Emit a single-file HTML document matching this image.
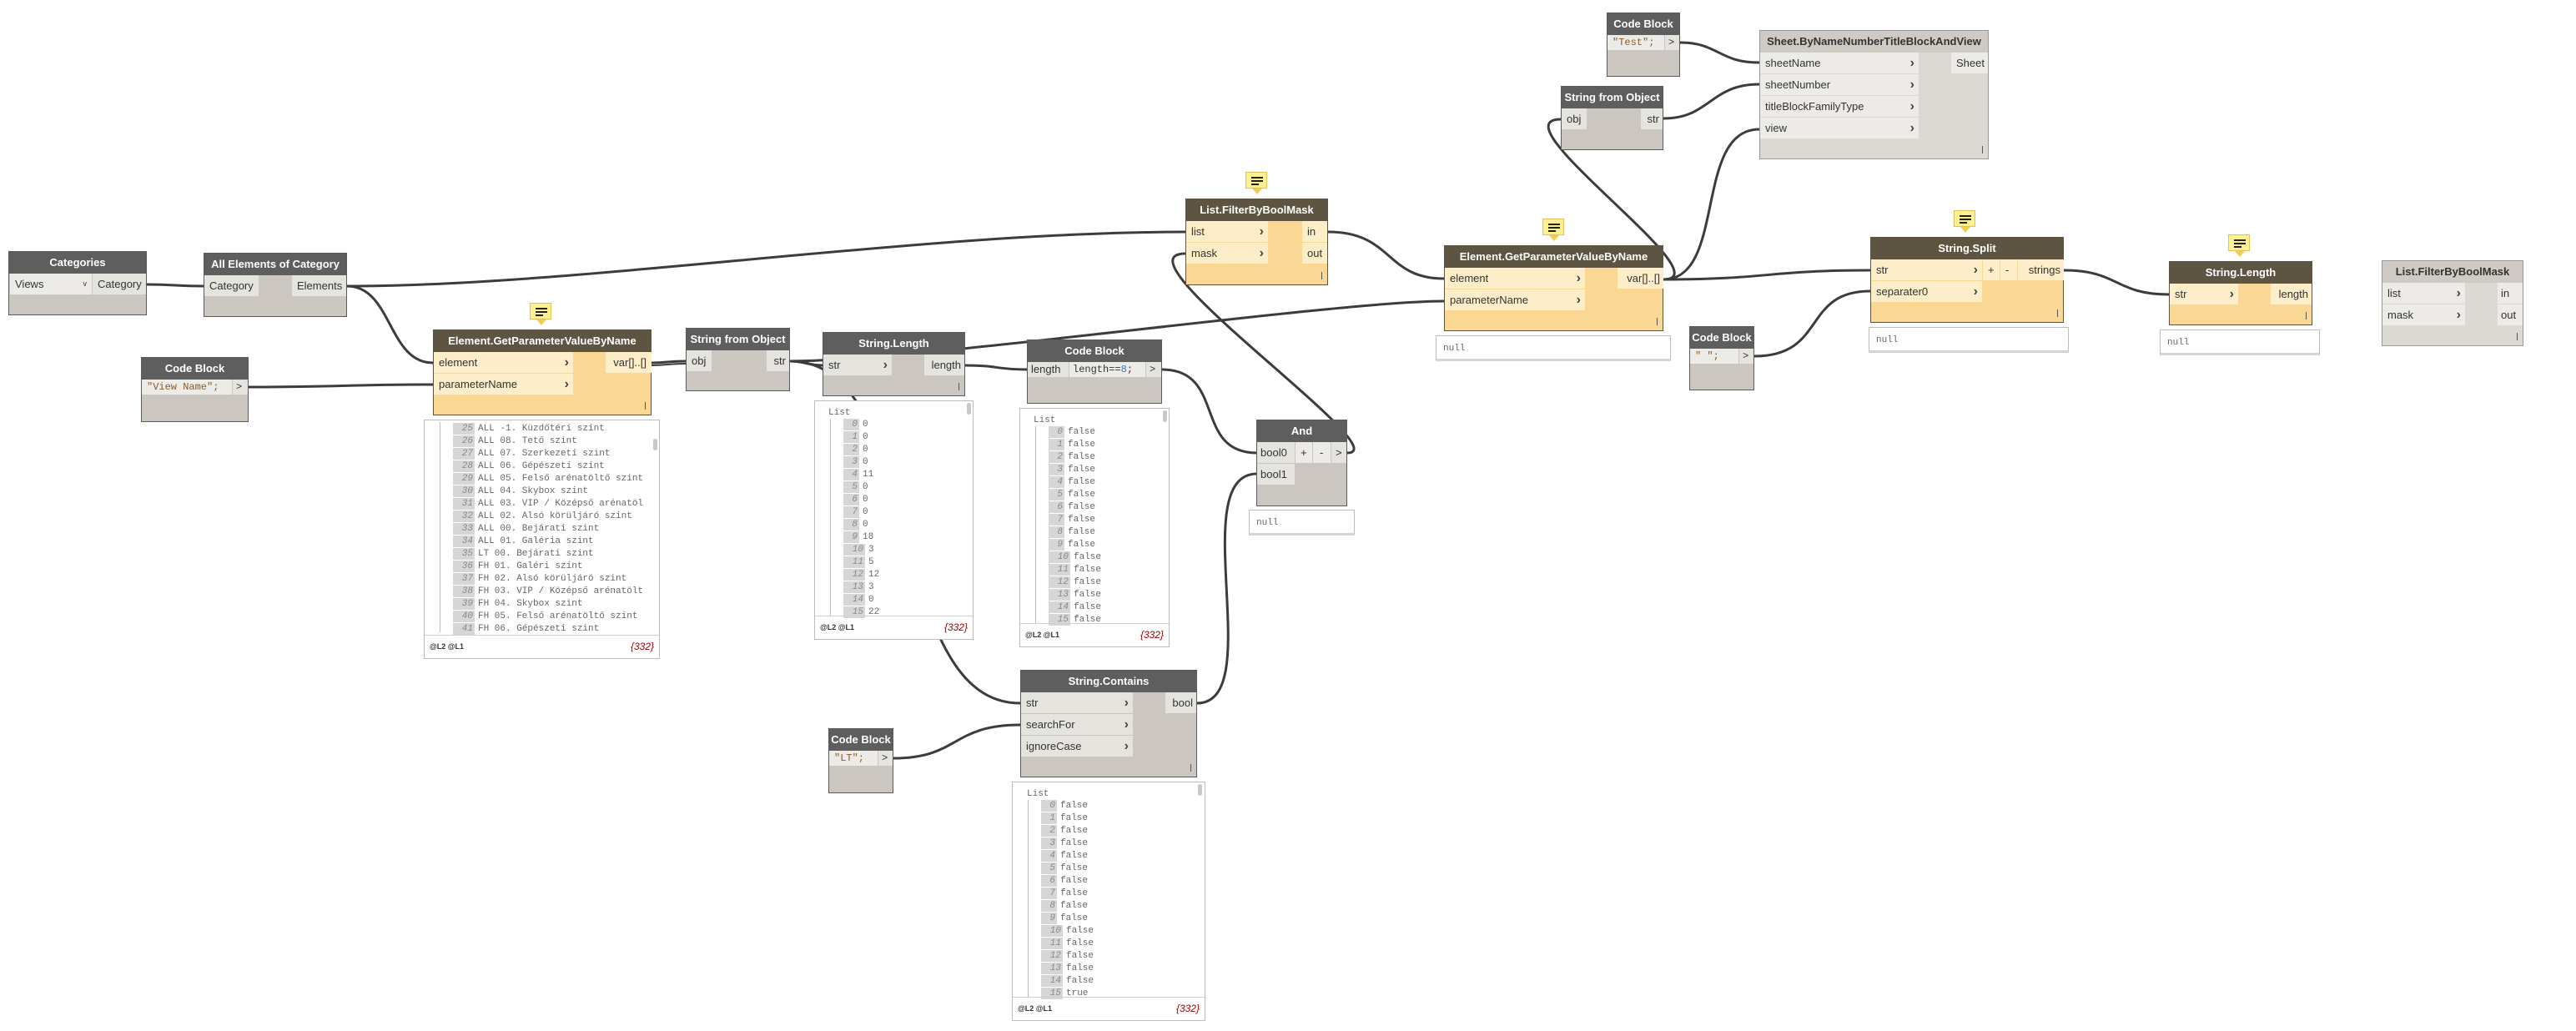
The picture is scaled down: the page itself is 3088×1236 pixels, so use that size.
<!DOCTYPE html>
<html><head><meta charset="utf-8">
<style>
body{margin:0;width:3088px;height:1236px;background:#fff;position:relative;overflow:hidden;font-family:"Liberation Sans",sans-serif}
.n{position:absolute;box-sizing:border-box;border:1px solid #555}
.h{height:26px;line-height:26px;text-align:center;color:#fff;font-size:13px;font-weight:bold;white-space:nowrap;overflow:hidden}
.g{background:#cbc7c0;border-color:#5a5a5a}.g .h{background:#5e5e5e}
.y{background:#fad894;border-color:#5d5442}.y .h{background:#5d5442}
.l{background:#dcd9d3;border-color:#999}.l .h{background:#cfcbc4;color:#333}
.p{position:absolute;height:25px;line-height:25px;font-size:13px;color:#333;padding:0 6px;box-sizing:border-box;white-space:nowrap;overflow:hidden}
.g .p{background:#e5e3de}.y .p{background:#fdedc8}.l .p{background:#ecebe7}
.ch{position:absolute;right:5px;top:0;font-weight:bold;font-size:16px;color:#444}
.r{text-align:right}
.c{font-family:"Liberation Mono",monospace;font-size:12px;height:18px;line-height:18px}
.s{color:#8a5a2c}
.t{position:absolute;right:6px;bottom:6px;width:1px;height:9px;background:#555}
.w{position:absolute;box-sizing:border-box;border:1px solid #bdbdbd;background:#fff;font-family:"Liberation Mono",monospace;font-size:11px;color:#666}
.w .rw{position:absolute;height:14px;line-height:14px;white-space:nowrap}
.w .i{display:inline-block;background:#d6d6d6;color:#888;font-style:italic;text-align:right;padding-right:2px;margin-right:4px;box-sizing:border-box}
.w .ft{position:absolute;left:0;right:0;bottom:0;height:27px;border-top:1px solid #cfcfcf;font-family:"Liberation Sans",sans-serif}
.w .ft .a{position:absolute;left:6px;top:8px;font-size:9px;color:#333;font-weight:bold}
.w .ft .b{position:absolute;right:6px;top:6px;font-size:12px;color:#a00000;font-style:italic}
.w .vl{position:absolute;width:1px;background:#bbb}
.w .sb{position:absolute;width:5px;height:14px;border-radius:3px;background:#c8c8c8}
.nl{position:absolute;box-sizing:border-box;border:1px solid #bdbdbd;border-bottom:3px solid #d5d5d5;background:#fff;font-family:"Liberation Mono",monospace;font-size:11px;color:#666;padding:9px 0 0 8px}
.note{position:absolute;width:26px;height:20px;background:#fff18f;border:1px solid #e0c05a;box-sizing:border-box}
.note:after{content:"";position:absolute;left:7px;top:19px;border-left:6px solid transparent;border-right:6px solid transparent;border-top:7px solid #f0cf55}
.note i{position:absolute;left:6px;height:2px;background:#222}
</style></head><body>

<svg width="3088" height="1236" style="position:absolute;left:0;top:0" fill="none" stroke="#3c3c3c" stroke-width="3">
<path d="M176 341 C210 341,210 343,244 343"/>
<path d="M416 343 C470 343,465 435,519 435"/>
<path d="M416 343 C700 343,1100 278,1422 278"/>
<path d="M298 464 C400 464,420 461,519 461"/>
<path d="M781 435 C800 435,800 433,822 433"/>
<path d="M781 438 C800 438,800 436,822 436" stroke-width="2"/>
<path d="M947 433 C965 433,968 438,986 438"/>
<path d="M947 433 C1100 433,1600 361,1731 361"/>
<path d="M947 433 C1110 433,1060 843,1223 843"/>
<path d="M1157 438 C1195 438,1195 443,1231 443"/>
<path d="M1393 443 C1470 443,1430 543,1507 543"/>
<path d="M1615 543 C1680 543,1330 304,1421 304"/>
<path d="M1435 843 C1520 843,1420 568,1507 568"/>
<path d="M1071 909 C1150 909,1140 869,1223 869"/>
<path d="M1592 278 C1670 278,1660 334,1731 334"/>
<path d="M1994 335 C2120 335,2120 324,2242 324"/>
<path d="M1994 335 C2070 335,1790 143,1871 143"/>
<path d="M1994 335 C2070 335,2030 155,2109 155"/>
<path d="M1994 142 C2050 142,2050 101,2109 101"/>
<path d="M2014 51 C2060 51,2060 75,2109 75"/>
<path d="M2103 427 C2190 427,2160 349,2242 349"/>
<path d="M2474 324 C2540 324,2535 353,2600 353"/>
</svg>

<!-- Categories -->
<div class="n g" style="left:10px;top:301px;width:166px;height:77px"><div class="h">Categories</div>
<div class="p" style="left:1px;top:26px;width:98px;background:#ecebe8">Views<span style="position:absolute;right:6px;font-size:9px">v</span></div>
<div class="p r" style="left:100px;top:26px;width:64px">Category</div></div>

<div class="n g" style="left:244px;top:303px;width:172px;height:77px"><div class="h">All Elements of Category</div>
<div class="p" style="left:0;top:26px;width:65px">Category</div>
<div class="p r" style="left:105px;top:26px;width:65px">Elements</div></div>

<div class="n g" style="left:169px;top:428px;width:129px;height:78px"><div class="h">Code Block</div>
<div class="p c" style="left:0;top:26px;width:108px;background:#ecebe8"><span class="s">"View Name";</span></div>
<div class="p c" style="left:109px;top:26px;width:18px;padding:0 4px">&gt;</div></div>

<div class="note" style="left:635px;top:363px"><i style="top:5px;width:14px"></i><i style="top:9px;width:14px"></i><i style="top:13px;width:9px"></i></div>
<div class="n y" style="left:519px;top:395px;width:262px;height:103px"><div class="h">Element.GetParameterValueByName</div>
<div class="p" style="left:0;top:26px;width:167px">element<span class="ch">›</span></div>
<div class="p" style="left:0;top:52px;width:167px">parameterName<span class="ch">›</span></div>
<div class="p r" style="left:206px;top:26px;width:55px">var[]..[]</div><div class="t"></div></div>

<div class="w" style="left:508px;top:503px;width:283px;height:287px">
<div class="vl" style="left:18px;top:2px;height:252px"></div><div class="sb" style="left:282px;top:22px;left:274px"></div>
<div class="rw" style="left:34px;top:3px"><span class="i" style="width:26px">25</span>ALL -1. Küzdőtéri szint</div>
<div class="rw" style="left:34px;top:18px"><span class="i" style="width:26px">26</span>ALL 08. Tető szint</div>
<div class="rw" style="left:34px;top:33px"><span class="i" style="width:26px">27</span>ALL 07. Szerkezeti szint</div>
<div class="rw" style="left:34px;top:48px"><span class="i" style="width:26px">28</span>ALL 06. Gépészeti szint</div>
<div class="rw" style="left:34px;top:63px"><span class="i" style="width:26px">29</span>ALL 05. Felső arénatöltő szint</div>
<div class="rw" style="left:34px;top:78px"><span class="i" style="width:26px">30</span>ALL 04. Skybox szint</div>
<div class="rw" style="left:34px;top:93px"><span class="i" style="width:26px">31</span>ALL 03. VIP / Középső arénatöl</div>
<div class="rw" style="left:34px;top:108px"><span class="i" style="width:26px">32</span>ALL 02. Alsó körüljáró szint</div>
<div class="rw" style="left:34px;top:123px"><span class="i" style="width:26px">33</span>ALL 00. Bejárati szint</div>
<div class="rw" style="left:34px;top:138px"><span class="i" style="width:26px">34</span>ALL 01. Galéria szint</div>
<div class="rw" style="left:34px;top:153px"><span class="i" style="width:26px">35</span>LT 00. Bejárati szint</div>
<div class="rw" style="left:34px;top:168px"><span class="i" style="width:26px">36</span>FH 01. Galéri szint</div>
<div class="rw" style="left:34px;top:183px"><span class="i" style="width:26px">37</span>FH 02. Alsó körüljáró szint</div>
<div class="rw" style="left:34px;top:198px"><span class="i" style="width:26px">38</span>FH 03. VIP / Középső arénatölt</div>
<div class="rw" style="left:34px;top:213px"><span class="i" style="width:26px">39</span>FH 04. Skybox szint</div>
<div class="rw" style="left:34px;top:228px"><span class="i" style="width:26px">40</span>FH 05. Felső arénatöltő szint</div>
<div class="rw" style="left:34px;top:243px"><span class="i" style="width:26px">41</span>FH 06. Gépészeti szint</div>
<div class="ft"><span class="a">@L2 @L1</span><span class="b">{332}</span></div></div>

<!-- String from Object -->
<div class="n g" style="left:822px;top:393px;width:125px;height:76px"><div class="h">String from Object</div>
<div class="p" style="left:0;top:26px;width:30px">obj</div>
<div class="p r" style="left:96px;top:26px;width:27px;padding:0 4px">str</div></div>

<div class="n g" style="left:986px;top:398px;width:171px;height:77px"><div class="h">String.Length</div>
<div class="p" style="left:0;top:26px;width:82px">str<span class="ch">›</span></div>
<div class="p r" style="left:121px;top:26px;width:48px;padding:0 4px">length</div><div class="t"></div></div>

<div class="w" style="left:976px;top:480px;width:191px;height:287px">
<div class="rw" style="left:16px;top:7px">List</div><div class="vl" style="left:18px;top:21px;height:236px"></div><div class="sb" style="left:182px;top:2px"></div>
<div class="rw" style="left:34px;top:21px"><span class="i" style="width:19px">0</span>0</div>
<div class="rw" style="left:34px;top:36px"><span class="i" style="width:19px">1</span>0</div>
<div class="rw" style="left:34px;top:51px"><span class="i" style="width:19px">2</span>0</div>
<div class="rw" style="left:34px;top:66px"><span class="i" style="width:19px">3</span>0</div>
<div class="rw" style="left:34px;top:81px"><span class="i" style="width:19px">4</span>11</div>
<div class="rw" style="left:34px;top:96px"><span class="i" style="width:19px">5</span>0</div>
<div class="rw" style="left:34px;top:111px"><span class="i" style="width:19px">6</span>0</div>
<div class="rw" style="left:34px;top:126px"><span class="i" style="width:19px">7</span>0</div>
<div class="rw" style="left:34px;top:141px"><span class="i" style="width:19px">8</span>0</div>
<div class="rw" style="left:34px;top:156px"><span class="i" style="width:19px">9</span>18</div>
<div class="rw" style="left:34px;top:171px"><span class="i" style="width:26px">10</span>3</div>
<div class="rw" style="left:34px;top:186px"><span class="i" style="width:26px">11</span>5</div>
<div class="rw" style="left:34px;top:201px"><span class="i" style="width:26px">12</span>12</div>
<div class="rw" style="left:34px;top:216px"><span class="i" style="width:26px">13</span>3</div>
<div class="rw" style="left:34px;top:231px"><span class="i" style="width:26px">14</span>0</div>
<div class="rw" style="left:34px;top:246px"><span class="i" style="width:26px">15</span>22</div>
<div class="ft"><span class="a">@L2 @L1</span><span class="b">{332}</span></div></div>

<div class="n g" style="left:1231px;top:407px;width:162px;height:77px"><div class="h">Code Block</div>
<div class="p" style="left:0;top:26px;width:49px;height:18px;line-height:18px;padding:0 4px">length</div>
<div class="p c" style="left:50px;top:26px;width:91px;background:#ecebe8;padding:0 4px">length==<span style="color:#2a7ad6">8</span>;</div>
<div class="p c" style="left:142px;top:26px;width:18px;padding:0 4px">&gt;</div></div>

<div class="w" style="left:1222px;top:489px;width:180px;height:287px">
<div class="rw" style="left:16px;top:7px">List</div><div class="vl" style="left:18px;top:21px;height:236px"></div><div class="sb" style="left:171px;top:2px"></div>
<div class="rw" style="left:34px;top:21px"><span class="i" style="width:19px">0</span>false</div>
<div class="rw" style="left:34px;top:36px"><span class="i" style="width:19px">1</span>false</div>
<div class="rw" style="left:34px;top:51px"><span class="i" style="width:19px">2</span>false</div>
<div class="rw" style="left:34px;top:66px"><span class="i" style="width:19px">3</span>false</div>
<div class="rw" style="left:34px;top:81px"><span class="i" style="width:19px">4</span>false</div>
<div class="rw" style="left:34px;top:96px"><span class="i" style="width:19px">5</span>false</div>
<div class="rw" style="left:34px;top:111px"><span class="i" style="width:19px">6</span>false</div>
<div class="rw" style="left:34px;top:126px"><span class="i" style="width:19px">7</span>false</div>
<div class="rw" style="left:34px;top:141px"><span class="i" style="width:19px">8</span>false</div>
<div class="rw" style="left:34px;top:156px"><span class="i" style="width:19px">9</span>false</div>
<div class="rw" style="left:34px;top:171px"><span class="i" style="width:26px">10</span>false</div>
<div class="rw" style="left:34px;top:186px"><span class="i" style="width:26px">11</span>false</div>
<div class="rw" style="left:34px;top:201px"><span class="i" style="width:26px">12</span>false</div>
<div class="rw" style="left:34px;top:216px"><span class="i" style="width:26px">13</span>false</div>
<div class="rw" style="left:34px;top:231px"><span class="i" style="width:26px">14</span>false</div>
<div class="rw" style="left:34px;top:246px"><span class="i" style="width:26px">15</span>false</div>
<div class="ft"><span class="a">@L2 @L1</span><span class="b">{332}</span></div></div>

<!-- And -->
<div class="n g" style="left:1506px;top:503px;width:109px;height:104px"><div class="h">And</div>
<div class="p" style="left:0;top:26px;width:45px;padding:0 4px">bool0</div>
<div class="p" style="left:46px;top:26px;width:20px;padding:0 6px;background:#ecebe8">+</div>
<div class="p" style="left:67px;top:26px;width:21px;padding:0 8px;background:#ecebe8">-</div>
<div class="p" style="left:89px;top:26px;width:18px;padding:0 5px">&gt;</div>
<div class="p" style="left:0;top:52px;width:45px;padding:0 4px">bool1</div></div>
<div class="nl" style="left:1497px;top:611px;width:127px;height:31px">null</div>

<!-- List.FilterByBoolMask -->
<div class="note" style="left:1493px;top:206px"><i style="top:5px;width:14px"></i><i style="top:9px;width:14px"></i><i style="top:13px;width:9px"></i></div>
<div class="n y" style="left:1421px;top:238px;width:171px;height:104px"><div class="h">List.FilterByBoolMask</div>
<div class="p" style="left:0;top:26px;width:98px">list<span class="ch">›</span></div>
<div class="p" style="left:0;top:52px;width:98px">mask<span class="ch">›</span></div>
<div class="p" style="left:139px;top:26px;width:30px">in</div>
<div class="p" style="left:139px;top:52px;width:30px">out</div><div class="t"></div></div>

<!-- GPV right -->
<div class="note" style="left:1849px;top:262px"><i style="top:5px;width:14px"></i><i style="top:9px;width:14px"></i><i style="top:13px;width:9px"></i></div>
<div class="n y" style="left:1731px;top:294px;width:263px;height:103px"><div class="h">Element.GetParameterValueByName</div>
<div class="p" style="left:0;top:26px;width:168px">element<span class="ch">›</span></div>
<div class="p" style="left:0;top:52px;width:168px">parameterName<span class="ch">›</span></div>
<div class="p r" style="left:207px;top:26px;width:55px;padding:0 4px">var[]..[]</div><div class="t"></div></div>
<div class="nl" style="left:1721px;top:402px;width:282px;height:31px">null</div>

<div class="n g" style="left:2025px;top:391px;width:78px;height:77px"><div class="h">Code Block</div>
<div class="p c" style="left:0;top:26px;width:58px;background:#ecebe8"><span class="s">" ";</span></div>
<div class="p c" style="left:59px;top:26px;width:17px;padding:0 4px">&gt;</div></div>

<!-- String.Split -->
<div class="note" style="left:2342px;top:252px"><i style="top:5px;width:14px"></i><i style="top:9px;width:14px"></i><i style="top:13px;width:9px"></i></div>
<div class="n y" style="left:2242px;top:284px;width:232px;height:103px"><div class="h">String.Split</div>
<div class="p" style="left:0;top:26px;width:133px">str<span class="ch">›</span></div>
<div class="p" style="left:0;top:52px;width:133px">separater0<span class="ch">›</span></div>
<div class="p" style="left:134px;top:26px;width:20px">+</div>
<div class="p" style="left:155px;top:26px;width:20px">-</div>
<div class="p r" style="left:176px;top:26px;width:55px;padding:0 4px">strings</div><div class="t"></div></div>
<div class="nl" style="left:2240px;top:392px;width:240px;height:31px">null</div>

<div class="note" style="left:2671px;top:281px"><i style="top:5px;width:14px"></i><i style="top:9px;width:14px"></i><i style="top:13px;width:9px"></i></div>
<div class="n y" style="left:2600px;top:313px;width:172px;height:77px"><div class="h">String.Length</div>
<div class="p" style="left:0;top:26px;width:82px">str<span class="ch">›</span></div>
<div class="p r" style="left:121px;top:26px;width:49px;padding:0 4px">length</div><div class="t"></div></div>
<div class="nl" style="left:2589px;top:395px;width:192px;height:31px">null</div>

<div class="n l" style="left:2855px;top:312px;width:170px;height:103px"><div class="h">List.FilterByBoolMask</div>
<div class="p" style="left:0;top:26px;width:99px">list<span class="ch">›</span></div>
<div class="p" style="left:0;top:52px;width:99px">mask<span class="ch">›</span></div>
<div class="p" style="left:138px;top:26px;width:30px;padding:0 4px">in</div>
<div class="p" style="left:138px;top:52px;width:30px;padding:0 4px">out</div><div class="t"></div></div>

<!-- top -->
<div class="n g" style="left:1926px;top:15px;width:88px;height:77px"><div class="h">Code Block</div>
<div class="p c" style="left:0;top:26px;width:68px;background:#ecebe8"><span class="s">"Test";</span></div>
<div class="p c" style="left:69px;top:26px;width:17px;padding:0 4px">&gt;</div></div>

<div class="n g" style="left:1871px;top:103px;width:123px;height:77px"><div class="h">String from Object</div>
<div class="p" style="left:0;top:26px;width:30px">obj</div>
<div class="p r" style="left:95px;top:26px;width:26px;padding:0 4px">str</div></div>

<div class="n l" style="left:2109px;top:36px;width:275px;height:155px"><div class="h">Sheet.ByNameNumberTitleBlockAndView</div>
<div class="p" style="left:0;top:26px;width:190px">sheetName<span class="ch">›</span></div>
<div class="p" style="left:0;top:52px;width:190px">sheetNumber<span class="ch">›</span></div>
<div class="p" style="left:0;top:78px;width:190px">titleBlockFamilyType<span class="ch">›</span></div>
<div class="p" style="left:0;top:104px;width:190px">view<span class="ch">›</span></div>
<div class="p r" style="left:229px;top:26px;width:44px;padding:0 4px">Sheet</div><div class="t"></div></div>

<!-- String.Contains -->
<div class="n g" style="left:1223px;top:803px;width:212px;height:129px"><div class="h">String.Contains</div>
<div class="p" style="left:0;top:26px;width:134px">str<span class="ch">›</span></div>
<div class="p" style="left:0;top:52px;width:134px">searchFor<span class="ch">›</span></div>
<div class="p" style="left:0;top:78px;width:134px">ignoreCase<span class="ch">›</span></div>
<div class="p r" style="left:173px;top:26px;width:37px;padding:0 4px">bool</div><div class="t"></div></div>

<div class="n g" style="left:993px;top:873px;width:78px;height:78px"><div class="h">Code Block</div>
<div class="p c" style="left:0;top:26px;width:58px;background:#ecebe8"><span class="s">"LT";</span></div>
<div class="p c" style="left:59px;top:26px;width:17px;padding:0 4px">&gt;</div></div>

<div class="w" style="left:1213px;top:937px;width:232px;height:287px">
<div class="rw" style="left:17px;top:7px">List</div><div class="vl" style="left:18px;top:21px;height:236px"></div><div class="sb" style="left:222px;top:2px"></div>
<div class="rw" style="left:34px;top:21px"><span class="i" style="width:19px">0</span>false</div>
<div class="rw" style="left:34px;top:36px"><span class="i" style="width:19px">1</span>false</div>
<div class="rw" style="left:34px;top:51px"><span class="i" style="width:19px">2</span>false</div>
<div class="rw" style="left:34px;top:66px"><span class="i" style="width:19px">3</span>false</div>
<div class="rw" style="left:34px;top:81px"><span class="i" style="width:19px">4</span>false</div>
<div class="rw" style="left:34px;top:96px"><span class="i" style="width:19px">5</span>false</div>
<div class="rw" style="left:34px;top:111px"><span class="i" style="width:19px">6</span>false</div>
<div class="rw" style="left:34px;top:126px"><span class="i" style="width:19px">7</span>false</div>
<div class="rw" style="left:34px;top:141px"><span class="i" style="width:19px">8</span>false</div>
<div class="rw" style="left:34px;top:156px"><span class="i" style="width:19px">9</span>false</div>
<div class="rw" style="left:34px;top:171px"><span class="i" style="width:26px">10</span>false</div>
<div class="rw" style="left:34px;top:186px"><span class="i" style="width:26px">11</span>false</div>
<div class="rw" style="left:34px;top:201px"><span class="i" style="width:26px">12</span>false</div>
<div class="rw" style="left:34px;top:216px"><span class="i" style="width:26px">13</span>false</div>
<div class="rw" style="left:34px;top:231px"><span class="i" style="width:26px">14</span>false</div>
<div class="rw" style="left:34px;top:246px"><span class="i" style="width:26px">15</span>true</div>
<div class="ft"><span class="a">@L2 @L1</span><span class="b">{332}</span></div></div>

</body></html>
